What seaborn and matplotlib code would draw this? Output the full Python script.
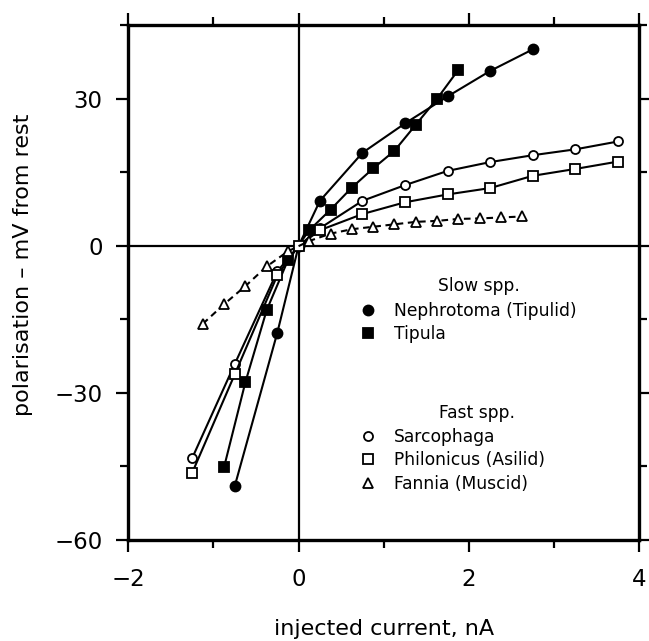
import matplotlib
matplotlib.use("Agg")
import matplotlib.pyplot as plt
from matplotlib.lines import Line2D
from matplotlib.ticker import MultipleLocator, FixedLocator
import seaborn as sns
import pandas as pd

# ---- data ----
neph_x = [-0.75, -0.25, 0, 0.25, 0.75, 1.25, 1.75, 2.25, 2.75]
neph_y = [-49.0, -17.7, 0, 9.2, 19.0, 25.0, 30.5, 35.7, 40.1]

tipula_x = [-0.875, -0.625, -0.375, -0.125, 0.125, 0.375, 0.625, 0.875, 1.125, 1.375, 1.625, 1.875]
tipula_y = [-45.1, -27.8, -13.1, -2.9, 3.2, 7.4, 11.9, 15.8, 19.4, 24.7, 30.0, 35.9]

sarco_x = [-1.25, -0.75, -0.25, 0, 0.25, 0.75, 1.25, 1.75, 2.25, 2.75, 3.25, 3.75]
sarco_y = [-43.3, -24.1, -5.2, 0, 3.6, 9.2, 12.4, 15.3, 17.1, 18.5, 19.7, 21.3]

philo_x = [-1.25, -0.75, -0.25, 0, 0.25, 0.75, 1.25, 1.75, 2.25, 2.75, 3.25, 3.75]
philo_y = [-46.3, -26.2, -6.0, 0, 3.2, 6.5, 8.9, 10.5, 11.8, 14.3, 15.7, 17.2]

fannia_x = [-1.125, -0.875, -0.625, -0.375, -0.125, 0.125, 0.375, 0.625, 0.875,
            1.125, 1.375, 1.625, 1.875, 2.125, 2.375, 2.625]
fannia_y = [-15.9, -11.9, -8.2, -4.2, -1.1, 1.0, 2.5, 3.4, 3.9,
            4.4, 4.9, 5.1, 5.5, 5.6, 5.8, 6.0]

slow_names = ["Nephrotoma (Tipulid)", "Tipula"]
fast_names = ["Sarcophaga", "Philonicus (Asilid)", "Fannia (Muscid)"]
group_titles = ["Slow spp.", "Fast spp."]

x_major = [-2, 0, 2, 4]
y_major = [-60, -30, 0, 30]

# ---- style ----
sns.set_style("ticks")
plt.rcParams["font.family"] = ["DejaVu Sans"]
for k in ["text.color", "axes.labelcolor", "xtick.color", "ytick.color",
          "axes.edgecolor"]:
    plt.rcParams[k] = "black"

fig = plt.figure(figsize=(6.49, 6.41), dpi=100)
ax = fig.add_axes([0.1977, 0.1576, 0.7873, 0.8029])

ax.axhline(0, color="black", lw=1.6, zorder=1)
ax.axvline(0, color="black", lw=1.6, zorder=1)

series = [
    (neph_x, neph_y, "o", "black", "-", 7.2),
    (tipula_x, tipula_y, "s", "black", "-", 6.8),
    (sarco_x, sarco_y, "o", "white", "-", 6.5),
    (philo_x, philo_y, "s", "white", "-", 6.5),
    (fannia_x, fannia_y, "^", "white", (0, (3.2, 2.2)), 6.6),
]
for xs, ys, mk, fc, ls, ms in series:
    df = pd.DataFrame({"x": xs, "y": ys})
    sns.lineplot(data=df, x="x", y="y", ax=ax, sort=False, estimator=None,
                 color="black", lw=1.5, linestyle=ls, marker=mk,
                 markerfacecolor=fc, markeredgecolor="black",
                 markeredgewidth=1.3, markersize=ms, zorder=3)

ax.set_xlim(-2, 4)
ax.set_ylim(-60, 45)
ax.xaxis.set_major_locator(FixedLocator(x_major))
ax.xaxis.set_minor_locator(MultipleLocator(1))
ax.yaxis.set_major_locator(FixedLocator(y_major))
ax.yaxis.set_minor_locator(MultipleLocator(15))

for s in ax.spines.values():
    s.set_visible(True)
    s.set_linewidth(2.4)
    s.set_color("black")

ax.tick_params(which="both", direction="out", top=True, right=True,
               labeltop=False, labelright=False, width=1.6, color="black",
               labelcolor="black")
ax.tick_params(which="major", length=8.5, labelsize=16.5, pad=10)
ax.tick_params(axis="x", which="major", pad=12)
ax.tick_params(which="minor", length=5.5)

ax.set_xlabel("injected current, nA", fontsize=16, labelpad=20, color="black")
ax.set_ylabel("polarisation \u2013 mV from rest", fontsize=16, color="black")
ax.yaxis.set_label_coords(-0.186, 0.535)

# ---- legends ----
def proxies(specs):
    return [Line2D([], [], linestyle="none", marker=mk, markerfacecolor=fc,
                   markeredgecolor="black", markeredgewidth=1.3, markersize=ms)
            for (_, _, mk, fc, _, ms) in specs]

leg_kw = dict(frameon=False, fontsize=12.3, borderpad=0, borderaxespad=0,
              handlelength=1.0, handletextpad=1.04, labelspacing=0.32,
              loc="upper left", labelcolor="black")
leg1 = ax.legend(proxies(series[:2]), slow_names,
                 bbox_to_anchor=(0.4515, 0.463), **leg_kw)
ax.add_artist(leg1)
leg2 = ax.legend(proxies(series[2:]), fast_names,
                 bbox_to_anchor=(0.4515, 0.218), **leg_kw)

ax.text(0.686, 0.494, group_titles[0], transform=ax.transAxes,
        ha="center", va="center", fontsize=12.3, color="black")
ax.text(0.683, 0.247, group_titles[1], transform=ax.transAxes,
        ha="center", va="center", fontsize=12.3, color="black")

fig.savefig("out.png", dpi=100)
